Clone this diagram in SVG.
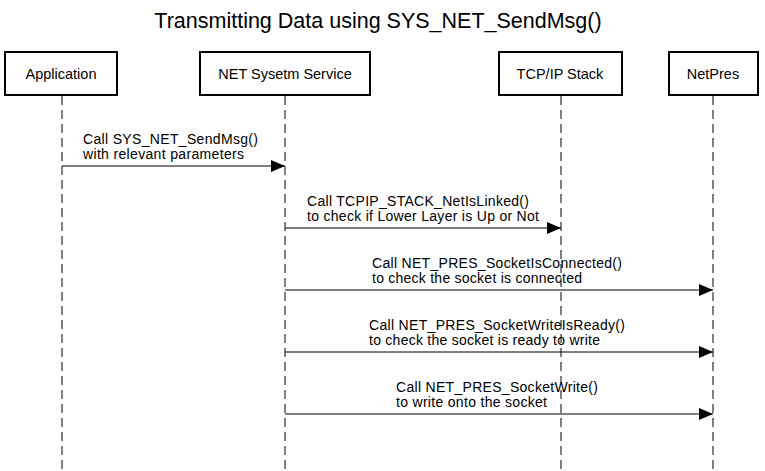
<svg xmlns="http://www.w3.org/2000/svg" width="765" height="471" viewBox="0 0 765 471">
<style>
.box{fill:#fff;stroke:#000;stroke-width:2}
.life{stroke:#000;stroke-width:1;stroke-dasharray:9,5;fill:none}
.msg{stroke:#000;stroke-width:1;fill:none}
text{font-family:"Liberation Sans",Arial,sans-serif;fill:#000}
.lbl{font-size:14.5px;text-anchor:middle}
.m{font-size:14px}
.title{font-size:21.5px;text-anchor:middle}
</style>
<defs>
<marker id="ah" markerWidth="14" markerHeight="12" refX="14" refY="6" orient="auto" markerUnits="userSpaceOnUse">
<path d="M0,0 L14,6 L0,12 Z" fill="#000"/>
</marker>
</defs>
<rect width="765" height="471" fill="#fff"/>
<text class="title" x="378" y="28">Transmitting Data using SYS_NET_SendMsg()</text>
<g id="lifelines">
<line class="life" x1="62" y1="96" x2="62" y2="471"/>
<line class="life" x1="285" y1="96" x2="285" y2="471"/>
<line class="life" x1="561" y1="96" x2="561" y2="471"/>
<line class="life" x1="713" y1="96" x2="713" y2="471"/>
</g>
<g id="application"><rect class="box" x="5" y="52" width="112" height="43"/><text class="lbl" x="61" y="79">Application</text></g>
<g id="net-service"><rect class="box" x="200" y="52" width="170" height="43"/><text class="lbl" x="285" y="79">NET Sysetm Service</text></g>
<g id="tcpip"><rect class="box" x="499" y="52" width="123" height="43"/><text class="lbl" x="560" y="79">TCP/IP Stack</text></g>
<g id="netpres"><rect class="box" x="669" y="52" width="89" height="43"/><text class="lbl" x="713" y="79">NetPres</text></g>
<g id="connectors">
<line class="msg" x1="62" y1="166" x2="285" y2="166" marker-end="url(#ah)"/>
<text class="m" x="83" y="144" textLength="175" lengthAdjust="spacing">Call SYS_NET_SendMsg()</text>
<text class="m" x="83" y="159" textLength="161" lengthAdjust="spacing">with relevant parameters</text>
<line class="msg" x1="285" y1="228" x2="561" y2="228" marker-end="url(#ah)"/>
<text class="m" x="307" y="206" textLength="222" lengthAdjust="spacing">Call TCPIP_STACK_NetIsLinked()</text>
<text class="m" x="307" y="221" textLength="232" lengthAdjust="spacing">to check if Lower Layer is Up or Not</text>
<line class="msg" x1="285" y1="290" x2="713" y2="290" marker-end="url(#ah)"/>
<text class="m" x="372" y="268" textLength="250" lengthAdjust="spacing">Call NET_PRES_SocketIsConnected()</text>
<text class="m" x="372" y="283" textLength="210" lengthAdjust="spacing">to check the socket is connected</text>
<line class="msg" x1="285" y1="352" x2="713" y2="352" marker-end="url(#ah)"/>
<text class="m" x="369" y="330" textLength="256" lengthAdjust="spacing">Call NET_PRES_SocketWriteIsReady()</text>
<text class="m" x="369" y="345" textLength="231" lengthAdjust="spacing">to check the socket is ready to write</text>
<line class="msg" x1="285" y1="414" x2="713" y2="414" marker-end="url(#ah)"/>
<text class="m" x="396" y="392" textLength="202" lengthAdjust="spacing">Call NET_PRES_SocketWrite()</text>
<text class="m" x="396" y="407" textLength="151" lengthAdjust="spacing">to write onto the socket</text>
</g>
</svg>
